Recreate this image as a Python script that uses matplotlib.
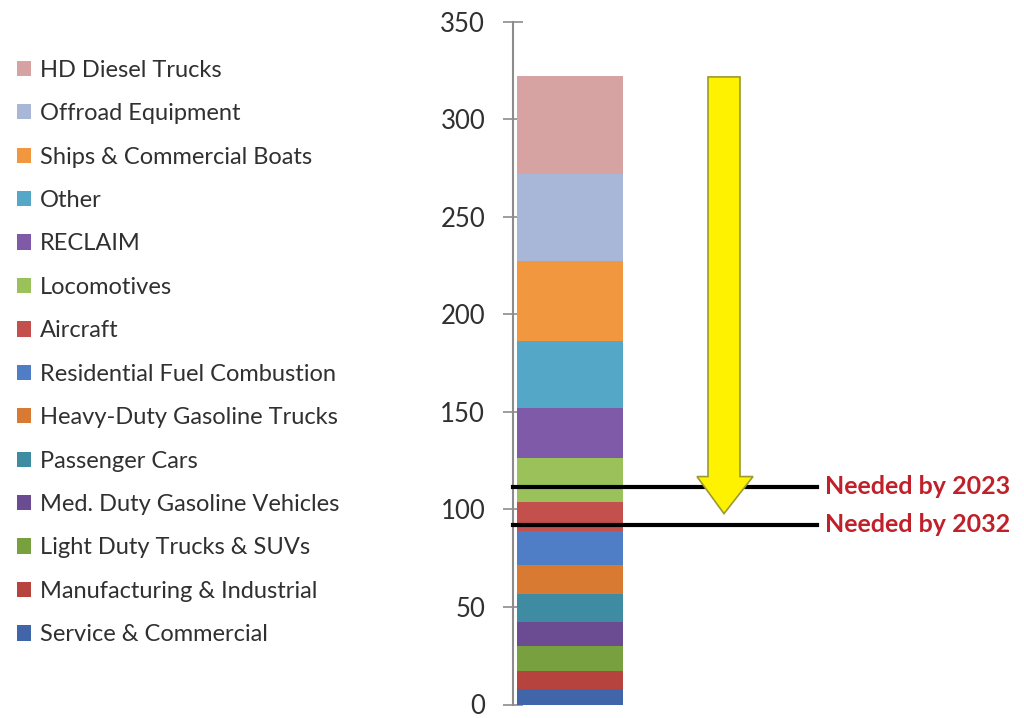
import matplotlib
matplotlib.use("Agg")
import matplotlib.pyplot as plt
from matplotlib.patches import Polygon, Patch

plt.rcParams['font.family'] = ['Lato', 'DejaVu Sans']

# stacked sources, bottom to top
sources = [
    "Service & Commercial",
    "Manufacturing & Industrial",
    "Light Duty Trucks & SUVs",
    "Med. Duty Gasoline Vehicles",
    "Passenger Cars",
    "Heavy-Duty Gasoline Trucks",
    "Residential Fuel Combustion",
    "Aircraft",
    "Locomotives",
    "RECLAIM",
    "Other",
    "Ships & Commercial Boats",
    "Offroad Equipment",
    "HD Diesel Trucks",
]
values = [8, 9, 13, 12.4, 14, 15, 17.4, 15, 22.5, 25.5, 34.6, 41, 44.7, 50]
colors = ["#4065A8", "#B7433F", "#78A03F", "#6B4C92", "#3F8CA2", "#D87A31",
          "#4F7DC6", "#C4504D", "#9BC25A", "#7E5AA8", "#55A7C8", "#F0973F",
          "#A8B7D7", "#D6A3A2"]

targets = [111.5, 92.2]
target_labels = ["Needed by 2023", "Needed by 2032"]
y_ticks = [0, 50, 100, 150, 200, 250, 300, 350]

fig = plt.figure(figsize=(10.24, 7.18), dpi=100)
ax = fig.add_axes([513 / 1024, 13.5 / 718, 500 / 1024, 683 / 718])
ax.set_xlim(0, 5)
ax.set_ylim(0, 350)

bottom = 0
for name, v, c in zip(sources, values, colors):
    ax.bar(0.57, v, width=1.06, bottom=bottom, color=c, edgecolor='none', zorder=2)
    bottom += v

# target lines and labels
for y, lab in zip(targets, target_labels):
    ax.plot([0.0, 3.04], [y, y], color='black', lw=3, zorder=3, clip_on=False)
    ax.text(3.12, y, lab, color='#C0202A', fontsize=18, fontweight='bold',
            va='center', ha='left')

# yellow arrow from total down to the 2032 level
total = sum(values)
shaft_l, shaft_r = 1.95, 2.27
head_l, head_r = 1.84, 2.40
tip = 97.8
head_start = 116.8
arrow = Polygon([(shaft_l, total - 0.5), (shaft_r, total - 0.5), (shaft_r, head_start),
                 (head_r, head_start), ((shaft_l + shaft_r) / 2, tip),
                 (head_l, head_start), (shaft_l, head_start)],
                closed=True, facecolor='#FFF200', edgecolor='#9A9A30', lw=1.2, zorder=4)
ax.add_patch(arrow)

for s in ['top', 'right', 'bottom']:
    ax.spines[s].set_visible(False)
ax.spines['left'].set_color('#8C8C8C')
ax.spines['left'].set_linewidth(1.5)
ax.set_xticks([])
ax.set_yticks(y_ticks)
ax.tick_params(axis='y', direction='inout', length=14, width=1.2, color='#8C8C8C',
               labelsize=18.5, labelcolor='#303030', pad=13)

handles = [Patch(facecolor=c, edgecolor='none') for c in colors][::-1]
fig.legend(handles, sources[::-1], loc='upper left', bbox_to_anchor=(0.007, 0.93),
           frameon=False, fontsize=17, labelcolor='#303030', handlelength=0.62,
           handleheight=0.62, handletextpad=0.35, labelspacing=0.95, borderaxespad=0)

fig.savefig('out.png', dpi=100)
